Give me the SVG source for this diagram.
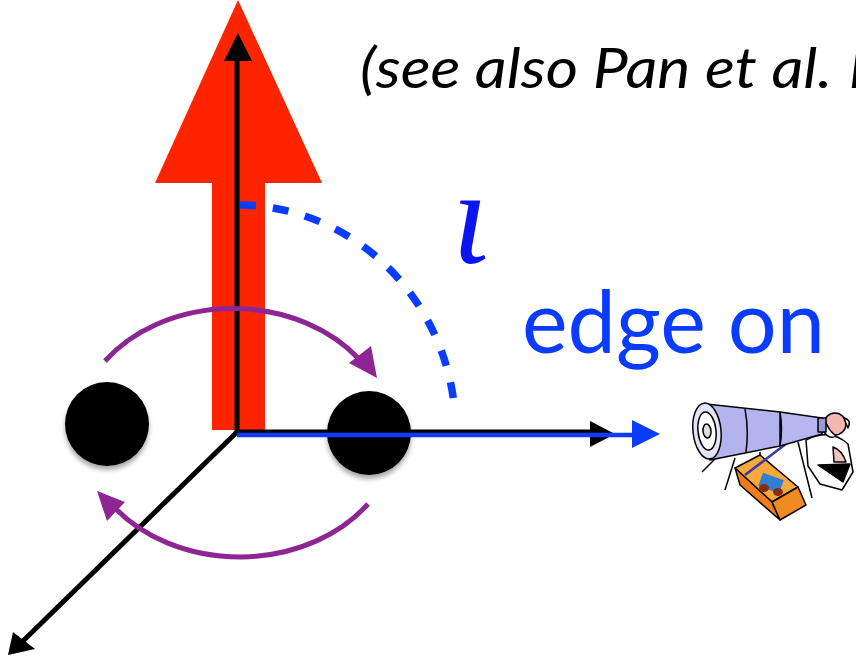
<svg xmlns="http://www.w3.org/2000/svg" width="856" height="656" viewBox="0 0 856 656">
  <defs>
    <style>
      .axis { stroke: #000; stroke-width: 5; fill: none; }
      .orbit { stroke: #8E2594; stroke-width: 5; fill: none; }
      .orbit-head { fill: #8E2594; }
      .los { stroke: #0A3CFF; stroke-width: 4.5; fill: none; }
      .incl { stroke: #0A3CFF; stroke-width: 7.5; fill: none; stroke-dasharray: 16 17; }
      .note { font-family: Lato, "Open Sans", sans-serif; font-style: italic; font-size: 56px; fill: #000; }
      .label { font-family: Lato, "Open Sans", sans-serif; font-size: 88px; fill: #0A3CFF; }
      .iota { font-family: "Liberation Serif", serif; font-style: italic; font-size: 135px; fill: #0A14F0; }
      .ink { stroke: #000; stroke-width: 1.5; stroke-linejoin: round; }
    </style>
    <filter id="shadow" x="-30%" y="-30%" width="160%" height="170%">
      <feGaussianBlur in="SourceAlpha" stdDeviation="2.5"/>
      <feOffset dy="4"/>
      <feComponentTransfer><feFuncA type="linear" slope="0.35"/></feComponentTransfer>
      <feMerge><feMergeNode/><feMergeNode in="SourceGraphic"/></feMerge>
    </filter>
  </defs>

  <rect width="856" height="656" fill="#fff"/>

  <!-- orbital angular momentum vector -->
  <g id="spin">
    <polygon points="238,0 322,183 265,183 265,430 212,430 212,183 155,183" fill="#FF2400"/>
  </g>

  <!-- inclination angle -->
  <g id="inclination">
    <path class="incl" d="M240,205 A218 227 0 0 1 455,413"/>
    <text class="iota" x="452" y="263">ι</text>
  </g>

  <!-- binary components -->
  <g id="star-left">
    <circle cx="107" cy="424" r="42" fill="#000" filter="url(#shadow)"/>
  </g>
  <g id="star-right">
    <circle cx="369" cy="433" r="42" fill="#000" filter="url(#shadow)"/>
  </g>

  <!-- axes, line of sight and orbital motion -->
  <g id="connectors">
    <line class="axis" x1="237" y1="432" x2="237" y2="58"/>
    <polygon points="238,33 252,61 224,61" fill="#000"/>
    <line class="axis" x1="237" y1="432" x2="22" y2="642"/>
    <polygon points="8,655 13,632 35,649" fill="#000"/>
    <line class="axis" x1="237" y1="432" x2="595" y2="432" stroke-width="4"/>
    <polygon points="615,434 590,421 590,447" fill="#000"/>
    <line class="los" x1="237" y1="435" x2="636" y2="435"/>
    <polygon points="660,434 632,420 632,448" fill="#0A3CFF"/>

    <path class="orbit" d="M105,361 A158 127 0 0 1 359,359"/>
    <polygon class="orbit-head" points="377,378 349,363 371,346"/>
    <path class="orbit" d="M368,504 A158 127 0 0 1 114,507"/>
    <polygon class="orbit-head" points="97,491 125,502 107,521"/>
  </g>

  <!-- observer at the telescope -->
  <g id="observer">
    <!-- stand legs -->
    <path class="ink" fill="none" d="M722,452 L702,472 M735,458 L725,490 M798,442 L812,498 M760,452 L760,470"/>
    <!-- box -->
    <polygon class="ink" points="735,468 760,455 798,487 772,502" fill="#F7A93B"/>
    <polygon class="ink" points="735,468 772,502 780,520 740,485" fill="#F07D1A"/>
    <polygon class="ink" points="772,502 798,487 806,505 780,520" fill="#F28A22"/>
    <rect x="760" y="476" width="22" height="14" fill="#2E7FD0" transform="rotate(20 771 483)"/>
    <ellipse cx="764" cy="488" rx="5" ry="4" fill="#8A2A12"/>
    <ellipse cx="778" cy="492" rx="5" ry="4" fill="#8A2A12"/>
    <!-- pointer rod -->
    <line x1="745" y1="475" x2="795" y2="437" stroke="#3A3AA8" stroke-width="2.5"/>
    <!-- observer body -->
    <path class="ink" d="M806,440 Q830,428 848,444 L853,472 L842,490 L820,484 L808,466 Z" fill="#fff"/>
    <path class="ink" d="M818,465 L850,464 L843,482 Z" fill="#000"/>
    <path class="ink" d="M833,447 Q842,450 846,462 L834,462 Z" fill="#F2C3B8"/>
    <!-- head -->
    <circle class="ink" cx="835" cy="424" r="11" fill="#F5B5B0"/>
    <path class="ink" fill="#fff" d="M822,418 Q818,424 824,432 Q830,440 836,436 Q828,430 825,420 Z"/>
    <path class="ink" fill="#fff" d="M844,418 Q852,420 848,428 Q846,424 844,418 Z"/>
    <!-- telescope tube -->
    <polygon class="ink" points="780,412 822,418 822,434 780,446" fill="#B6B6F0"/>
    <polygon class="ink" points="706,404 780,412 780,446 710,460" fill="#B3B3EE"/>
    <ellipse class="ink" cx="707" cy="431" rx="14" ry="28" fill="#E4E4F8" transform="rotate(-6 707 431)"/>
    <ellipse class="ink" cx="707" cy="431" rx="9" ry="19" fill="#fff" transform="rotate(-6 707 431)"/>
    <ellipse class="ink" cx="707" cy="431" rx="4" ry="7" fill="#ddd" transform="rotate(-6 707 431)"/>
    <path class="ink" fill="none" d="M745,409 Q749,430 746,452 M780,412 Q783,429 780,446"/>
    <rect class="ink" x="818" y="418" width="8" height="14" fill="#9A9AD8"/>
  </g>

  <!-- annotations -->
  <g id="labels">
    <text class="note" x="360" y="88" textLength="472" lengthAdjust="spacingAndGlyphs">(see also Pan et al.</text>
    <text class="note" x="849" y="88">I</text>
    <text class="label" x="522" y="353" textLength="303" lengthAdjust="spacingAndGlyphs">edge on</text>
  </g>
</svg>
